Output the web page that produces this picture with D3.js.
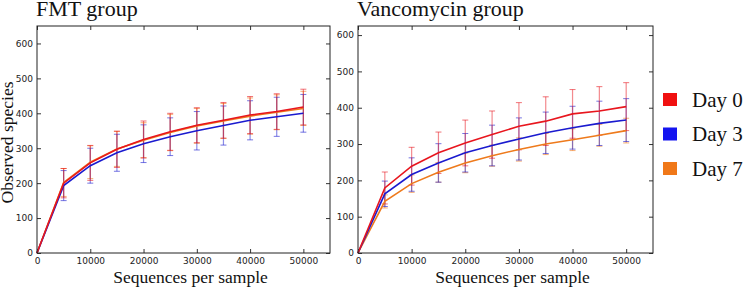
<!DOCTYPE html>
<html><head><meta charset="utf-8">
<script src="https://cdn.jsdelivr.net/npm/d3@7"></script>
<style>
body{margin:0;background:#fff;}
svg{display:block;}
</style></head>
<body>
<svg id="chart" width="745" height="288"></svg>
<script>
const xValues = [0,5000,10000,15000,20000,25000,30000,35000,40000,45000,50000];
const seriesNames = ["Day 0","Day 3","Day 7"];
const seriesColors = ["#e8161e","#1a1acf","#ee7a1c"];
const legendColors = ["#f01010","#1414f0","#f07818"];
const xTicks = [0,10000,20000,30000,40000,50000];
const yTicks = [0,100,200,300,400,500,600];

// FMT group
const fmtDay0 = [0,200,258,297,325,347,366,380,395,405,418];
const fmtDay3 = [0,193,250,287,313,333,350,365,380,390,400];
const fmtDay7 = [0,202,260,298,323,345,364,378,392,403,414];
const fmtErr0 = [0,42,50,52,53,53,50,51,53,51,51];
const fmtErr3 = [0,43,50,53,54,54,55,56,56,56,54];
const fmtErr7 = [0,40,47,50,50,52,50,50,52,50,49];

// Vancomycin group
const vanDay0 = [0,179,239,276,303,326,349,363,383,391,403];
const vanDay3 = [0,163,216,248,276,296,314,331,345,357,366];
const vanDay7 = [0,142,191,222,248,268,285,300,312,324,337];
const vanErr0 = [0,44,52,57,63,65,65,67,67,67,66];
const vanErr3 = [0,35,46,53,53,56,58,57,59,61,59];
const vanErr7 = [0,18,24,27,27,29,32,29,30,30,34];

const svg = d3.select("#chart");

function panel(opts){
  const {left,right,top,bottom,yMax,title,series,errs,showYLabel} = opts;
  const x = d3.scaleLinear().domain([0,55000]).range([left,right]);
  const y = d3.scaleLinear().domain([0,yMax]).range([bottom,top]);
  const g = svg.append("g");

  // title
  g.append("text").attr("x",left-1).attr("y",16)
    .style("font-family","'Liberation Serif',serif").style("font-size","22px")
    .attr("fill","#111").text(title);

  // axes (matplotlib style: ticks inward, all sides)
  const tickStyle = sel => {
    sel.select(".domain").remove();
    sel.selectAll("line").attr("stroke","#333");
    sel.selectAll("text").style("font-family","'DejaVu Sans',sans-serif").style("font-size","9px").attr("fill","#222");
  };
  g.append("g").attr("transform",`translate(0,${bottom})`)
    .call(d3.axisBottom(x).tickValues(xTicks).tickFormat(d3.format("d")).tickSizeInner(-4).tickSizeOuter(0).tickPadding(5))
    .call(tickStyle);
  g.append("g").attr("transform",`translate(0,${top})`)
    .call(d3.axisTop(x).tickValues(xTicks).tickFormat("").tickSizeInner(-4).tickSizeOuter(0))
    .call(tickStyle);
  g.append("g").attr("transform",`translate(${left},0)`)
    .call(d3.axisLeft(y).tickValues(yTicks).tickFormat(d3.format("d")).tickSizeInner(-4).tickSizeOuter(0).tickPadding(4))
    .call(tickStyle);
  g.append("g").attr("transform",`translate(${right},0)`)
    .call(d3.axisRight(y).tickValues(yTicks).tickFormat("").tickSizeInner(-4).tickSizeOuter(0))
    .call(tickStyle);

  // error bars
  const order = [2,1,0];
  order.forEach(si=>{
    const vals = series[si], err = errs[si], col = seriesColors[si];
    const eg = g.append("g");
    xValues.forEach((xv,i)=>{
      if(err[i]<=0) return;
      const cx = x(xv);
      eg.append("line").attr("x1",cx).attr("x2",cx)
        .attr("y1",y(vals[i]-err[i])).attr("y2",y(vals[i]+err[i]))
        .attr("stroke",col).attr("stroke-opacity",0.5).attr("stroke-width",1.2);
      [vals[i]-err[i], vals[i]+err[i]].forEach(v=>{
        eg.append("line").attr("x1",cx-3).attr("x2",cx+3)
          .attr("y1",y(v)).attr("y2",y(v))
          .attr("stroke",col).attr("stroke-opacity",0.6).attr("stroke-width",1);
      });
    });
  });

  // lines
  const line = d3.line().x((d,i)=>x(xValues[i])).y(d=>y(d));
  order.forEach(si=>{
    g.append("path").datum(series[si]).attr("d",line)
      .attr("fill","none").attr("stroke",seriesColors[si]).attr("stroke-width",1.6);
  });

  // frame
  g.append("rect").attr("x",left).attr("y",top).attr("width",right-left).attr("height",bottom-top)
    .attr("fill","none").attr("stroke","#222").attr("stroke-width",1);

  // x label
  g.append("text").attr("x",(left+right)/2+7).attr("y",283).attr("text-anchor","middle")
    .style("font-family","'Liberation Serif',serif").style("font-size","17.5px")
    .attr("fill","#111").text("Sequences per sample");

  if(showYLabel){
    g.append("text").attr("transform",`translate(13,${(top+bottom)/2+3}) rotate(-90)`)
      .attr("text-anchor","middle")
      .style("font-family","'Liberation Serif',serif").style("font-size","17.5px")
      .attr("fill","#111").text("Observed species");
  }
}

panel({left:37,right:330,top:26,bottom:253,yMax:650,title:"FMT group",
  series:[fmtDay0,fmtDay3,fmtDay7],errs:[fmtErr0,fmtErr3,fmtErr7],showYLabel:true});
panel({left:358,right:653,top:26,bottom:253,yMax:625,title:"Vancomycin group",
  series:[vanDay0,vanDay3,vanDay7],errs:[vanErr0,vanErr3,vanErr7],showYLabel:false});

// legend
const lg = svg.append("g");
seriesNames.forEach((name,i)=>{
  const yTop = 93 + i*34.5;
  lg.append("rect").attr("x",663).attr("y",yTop).attr("width",14).attr("height",13)
    .attr("fill",legendColors[i]);
  lg.append("text").attr("x",692).attr("y",yTop+13.5)
    .style("font-family","'Liberation Serif',serif").style("font-size","21px")
    .attr("fill","#111").text(name);
});
</script>
</body></html>
